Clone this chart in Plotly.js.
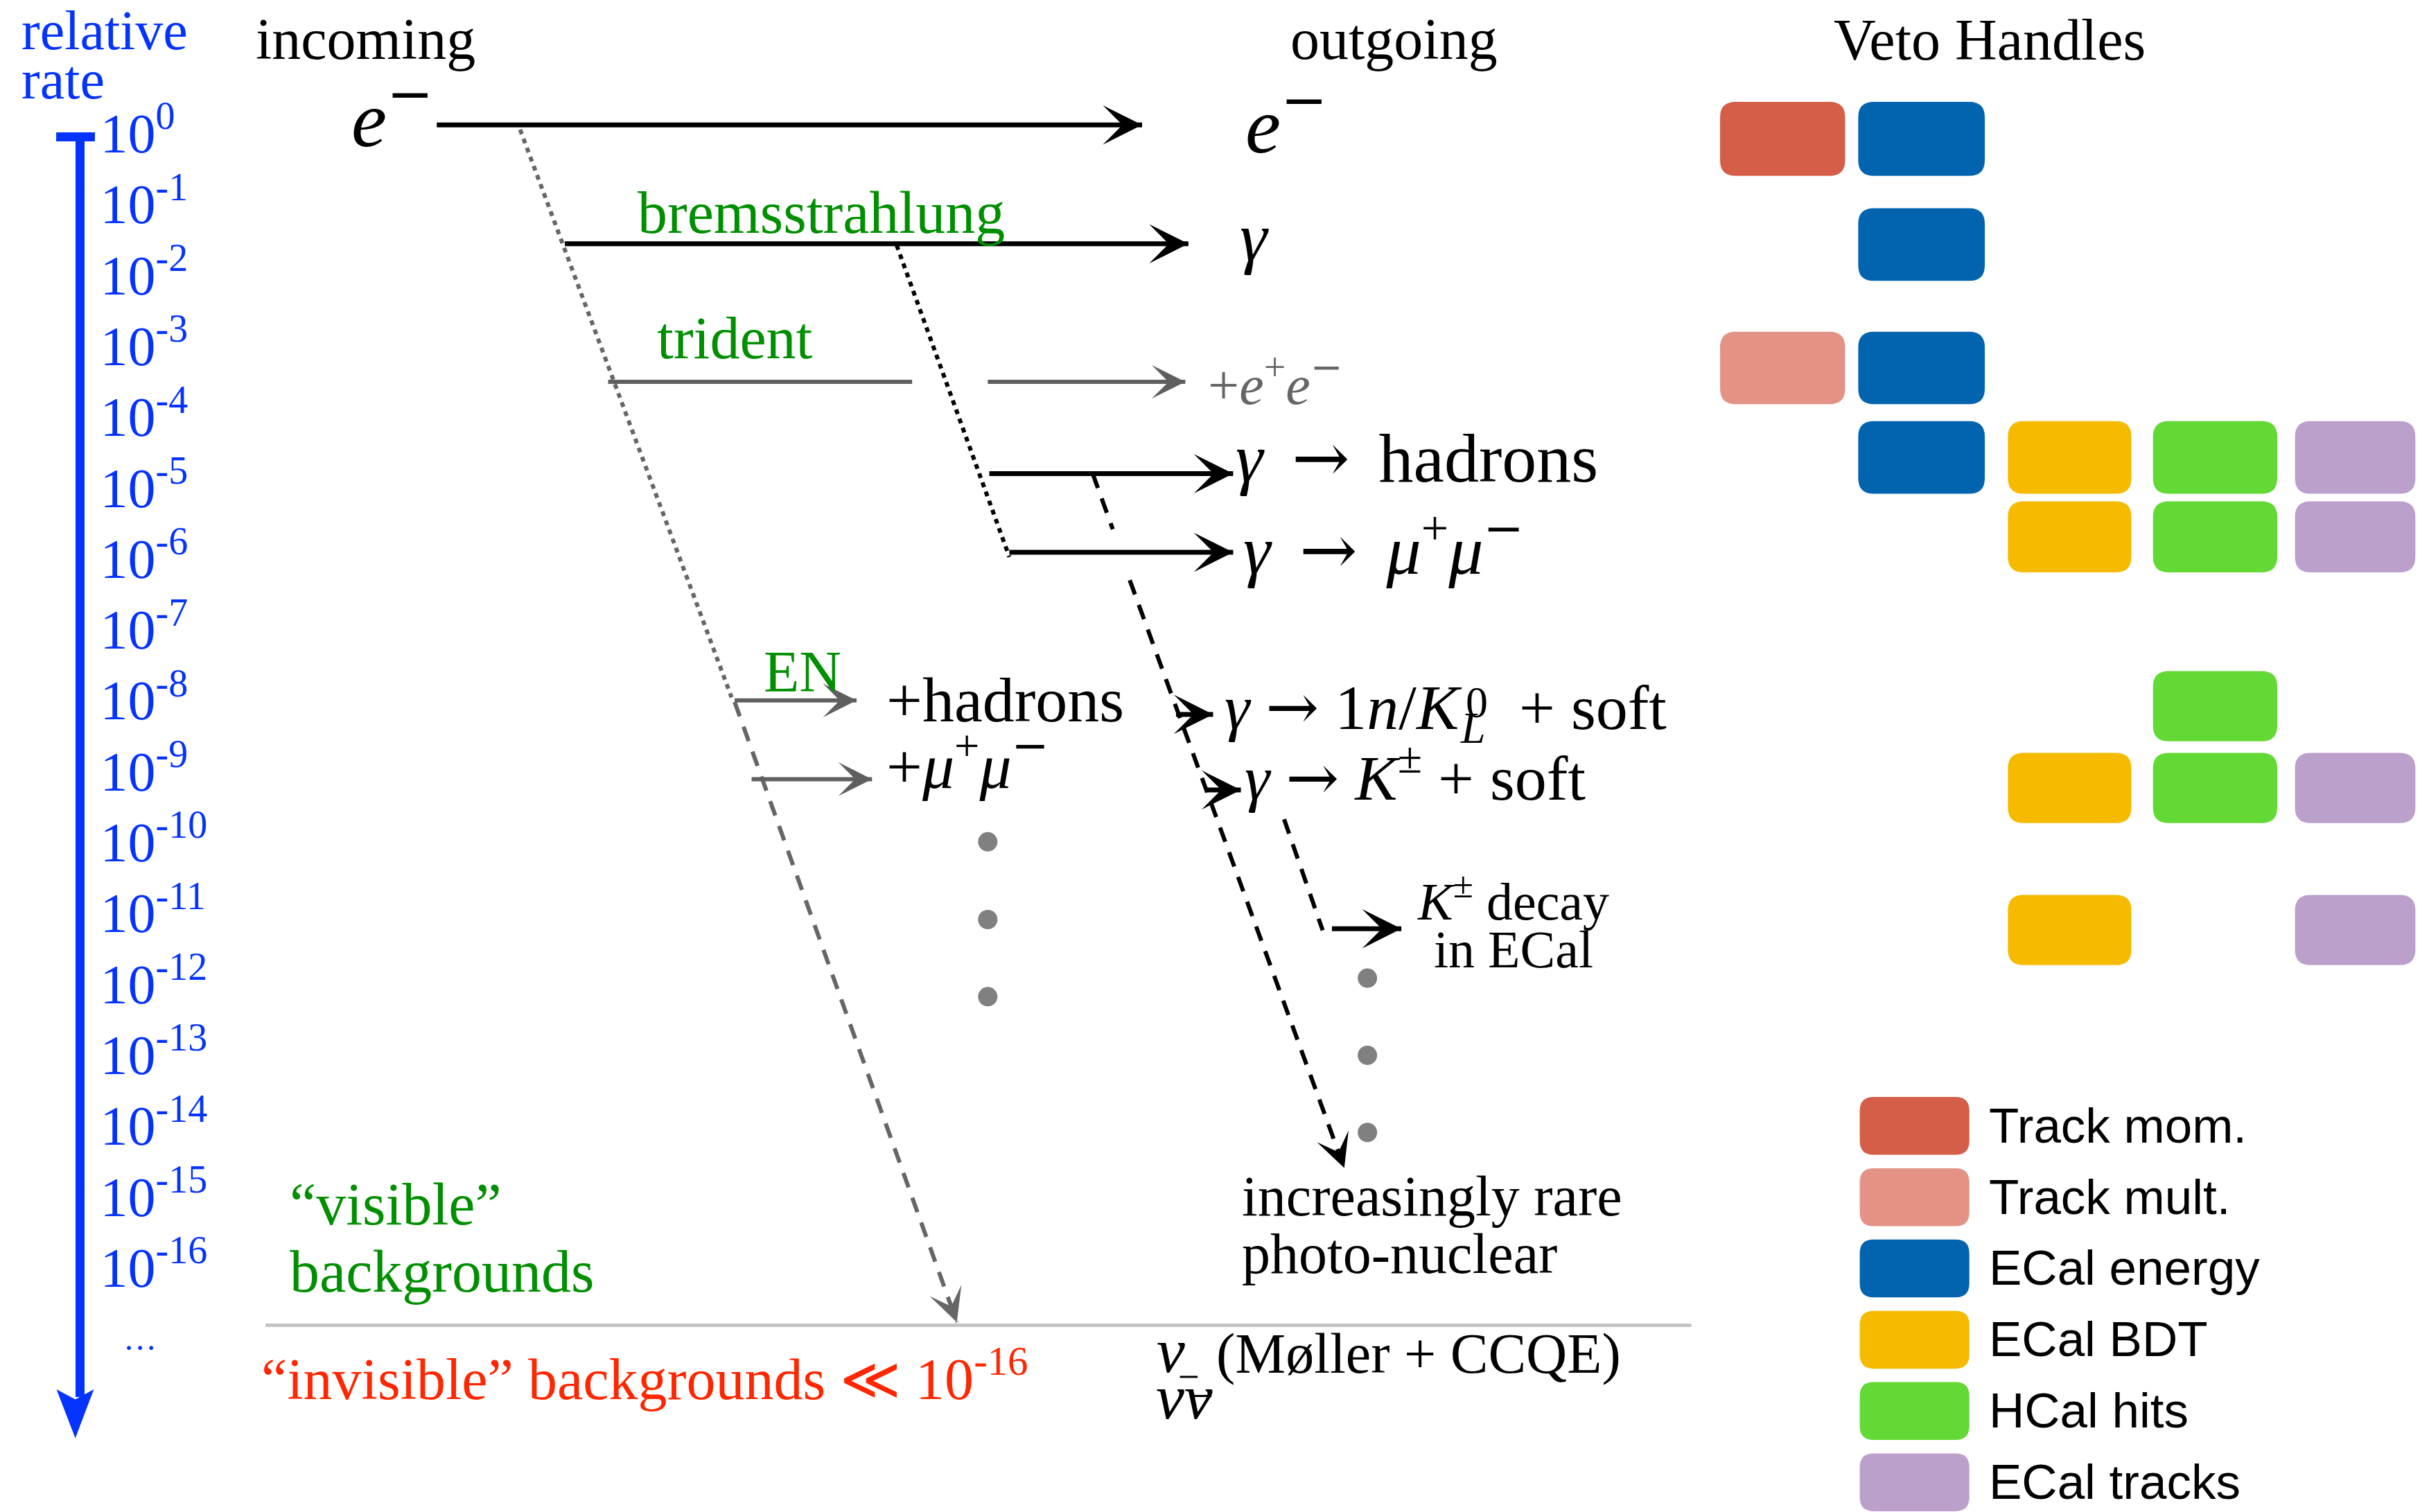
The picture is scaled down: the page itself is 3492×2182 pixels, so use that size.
<!DOCTYPE html>
<html><head><meta charset="utf-8">
<script src="https://cdn.plot.ly/plotly-3.0.1.min.js"></script>
<style>html,body{margin:0;padding:0;background:#fff;}#chart{width:3492px;height:2182px;}</style>
</head><body><div id="chart"></div>
<script>
// ================= DATA =================
// relative-rate scale (log10 of the relative rate)
const rateExponents = [0,-1,-2,-3,-4,-5,-6,-7,-8,-9,-10,-11,-12,-13,-14,-15,-16];
const rateTickLabels = ['10<sup>0</sup>','10<sup>-1</sup>','10<sup>-2</sup>','10<sup>-3</sup>','10<sup>-4</sup>',
  '10<sup>-5</sup>','10<sup>-6</sup>','10<sup>-7</sup>','10<sup>-8</sup>','10<sup>-9</sup>','10<sup>-10</sup>',
  '10<sup>-11</sup>','10<sup>-12</sup>','10<sup>-13</sup>','10<sup>-14</sup>','10<sup>-15</sup>','10<sup>-16</sup>'];
const rateAxisTitle = ['relative', 'rate'];
const columnTitles = ['incoming', 'outgoing', 'Veto Handles'];

// veto handles and which process rows each one applies to
const vetoHandles = ['Track mom.', 'Track mult.', 'ECal energy', 'ECal BDT', 'HCal hits', 'ECal tracks'];
const processNames = ['e⁻', 'γ', '+e⁺e⁻', 'γ → hadrons', 'γ → μ⁺μ⁻', 'γ → 1n/K⁰L + soft', 'γ → K± + soft', 'K± decay in ECal'];
const vetoMatrix = [
  [1,0,1,0,0,0],
  [0,0,1,0,0,0],
  [0,1,1,0,0,0],
  [0,0,1,1,1,1],
  [0,0,0,1,1,1],
  [0,0,0,0,1,0],
  [0,0,0,1,1,1],
  [0,0,0,1,0,1]
];

// diagram labels
const ARW = '<span style="font-family:DejaVu Serif">→</span>';
const MINUS = '<span style="font-family:DejaVu Serif">−</span>';
const SP = '\u2004\u200A';
const sceneLabels = [
  '<i>e</i><sup>' + MINUS + '</sup>', '<i>e</i><sup>' + MINUS + '</sup>', 'bremsstrahlung', '<i>γ</i>', 'trident',
  '+<i>e</i><sup>+</sup><i>e</i><sup>' + MINUS + '</sup>', '<i>γ</i>' + SP + ARW + SP + 'hadrons',
  '<i>γ</i>' + SP + ARW + SP + '<i>μ</i><sup>+</sup><i>μ</i><sup>' + MINUS + '</sup>',
  'EN', '+hadrons', '+<i>μ</i><sup>+</sup><i>μ</i><sup>' + MINUS + '</sup>',
  '<i>γ</i> ' + ARW + ' 1<i>n</i>/<i>K</i>', '0', '<i>L</i>', '+ soft',
  '<i>γ</i> ' + ARW + ' <i>K</i><sup>±</sup> + soft', '<i>K</i><sup>±</sup> decay', 'in ECal',
  'increasingly rare', 'photo-nuclear', '“visible”', 'backgrounds',
  '“invisible” backgrounds ≪ 10<sup>-16</sup>', '<i>ν</i>', '(Møller + CCQE)', '<i>νν</i>', '…'
];

// process flow segments  [x0, y0, x1, y1]  (diagram units)
const solidBlackArrows = [[283,81,740,81],[366,158,770,158],[641,307,799,307],[654,358,799,358],[762,463,786,463],[782,512,804,512],[863,602,908,602]];
const solidGrayArrows  = [[640,247.5,768,247.5],[476,454,555,454],[487,505,565,505]];
const solidGrayPlain   = [[394,247.5,591,247.5]];
const dottedGray  = [[337,84,474,452]];
const dashedGrayArrows = [[476,455,620,857]];
const dottedBlack = [[581,159,654,361]];
const dashedBlackPlain = [[708,307,721,343],[832,531,857,603]];
const dashedBlackArrows = [[732,376,871,757]];
const separator = [[172,859,1096,859]];
const smallBars = [[764.5,892.4,776,892.4],[773,904.8,785,904.8]];
const moreDotsX = [640,640,640,886,886,886];
const moreDotsY = [545.6,596,646,634,684,734];

// ================= STYLE / LAYOUT =================
const K = 3492/1568;
const BLUE = '#0433FF', GREEN = '#008F00', RED = '#FF2600', GRAYTXT = '#666666', GRAYLN = '#5f5f5f';
const SERIF = 'Liberation Serif, Times New Roman, serif';
const SANS = 'Liberation Sans, Arial, sans-serif';
const vetoColors = ['#D55E48', '#E39285', '#0263AF', '#F6BB00', '#63D935', '#BCA0CC'];
const handleColumn = [0,0,1,2,3,4];
const colX = [[1114.5,1195.5],[1204,1286],[1301,1381],[1395,1475.5],[1487,1565]];
const rowY = [[66,114],[135,182],[215,262],[273,320],[325,371],[435,480.5],[488,533.5],[580,625.5]];

// label placement: [x, baseline, size(px), color, shiftFactor]
const scenePos = [
  [226.8,94,115,'#000',0.414],[806,98,115,'#000',0.414],[412.2,150.9,86,GREEN,0.34],[802.4,169,100,'#000',0.34],[424.8,232.2,86,GREEN,0.34],
  [781.8,261.3,80,GRAYTXT,0.414],[799.7,312,100,'#000',0.34],[804.7,372,100,'#000',0.414],
  [494,448.1,84,GREEN,0.34],[573.4,467.5,92,'#000',0.34],[573.4,510,92,'#000',0.414],
  [792.6,472.4,92,'#000',0.34],[949,465,64,'#000',0.34],[945,481.4,64,'#000',0.34],[983.5,472.4,92,'#000',0.34],
  [805.6,519,92,'#000',0.414],[917.4,595.9,76,'#000',0.414],[928.2,626.9,76,'#000',0.34],
  [803.8,788,82,'#000',0.34],[803.8,825,82,'#000',0.34],[186.8,793.7,86,GREEN,0.34],[186.8,837.5,86,GREEN,0.34],
  [168.4,907,84,RED,0.414],[748.4,889.5,92,'#000',0.34],[787.2,890,82,'#000',0.34],[748,919.6,92,'#000',0.34],[79,875,48,BLUE,0.34]
];

function lineTrace(segs, color, width, dash){
  const xs=[], ys=[];
  segs.forEach(s=>{ xs.push(s[0],s[2],null); ys.push(s[1],s[3],null); });
  return {x:xs, y:ys, mode:'lines', line:{color:color, width:width, dash:dash||'solid'}, hoverinfo:'skip', showlegend:false};
}
function headAnn(s, color, width){
  const dx=s[2]-s[0], dy=s[3]-s[1], L=Math.hypot(dx,dy), b=Math.min(10, L*0.5);
  return {x:s[2], y:s[3], ax:s[2]-dx/L*b, ay:s[3]-dy/L*b, xref:'x', yref:'y', axref:'x', ayref:'y',
    showarrow:true, arrowhead:3, arrowsize:1.35, arrowwidth:width, arrowcolor:color, text:'', standoff:0};
}
function textAnn(text, x, base, size, color, shift, family){
  return {x:x, y:base - shift*size/K, xref:'x', yref:'y', xanchor:'left', yanchor:'middle', showarrow:false,
    text:text, font:{family:family||SERIF, size:size, color:color}};
}
function roundRect(x0,y0,x1,y1,r){
  return `M${x0+r},${y0} H${x1-r} Q${x1},${y0} ${x1},${y0+r} V${y1-r} Q${x1},${y1} ${x1-r},${y1} H${x0+r} Q${x0},${y1} ${x0},${y1-r} V${y0+r} Q${x0},${y0} ${x0+r},${y0} Z`;
}

const traces = [
  lineTrace(separator, '#C4C4C4', 5),
  lineTrace(dottedGray, '#666666', 6, '7px,7px'),
  lineTrace(dashedGrayArrows, '#666666', 6, '22px,16px'),
  lineTrace(dottedBlack, '#000000', 6, '7px,7px'),
  lineTrace(dashedBlackPlain, '#000000', 6, '22px,16px'),
  lineTrace(dashedBlackArrows, '#000000', 6, '22px,16px'),
  lineTrace(solidGrayPlain, GRAYLN, 6),
  lineTrace(solidGrayArrows, GRAYLN, 6),
  lineTrace(solidBlackArrows, '#000000', 7),
  lineTrace(smallBars, '#000000', 3),
  {x:moreDotsX, y:moreDotsY, mode:'markers', marker:{size:28, color:'#808080'}, hoverinfo:'skip', showlegend:false},
  {x:[48.5], y:[0], yaxis:'y2', mode:'markers', marker:{opacity:0}, hoverinfo:'skip', showlegend:false}
];

const annotations = [];
solidBlackArrows.forEach(s=>annotations.push(headAnn(s,'#000000',7)));
solidGrayArrows.forEach(s=>annotations.push(headAnn(s,GRAYLN,6)));
dashedGrayArrows.forEach(s=>annotations.push(headAnn(s,'#666666',6)));
dashedBlackArrows.forEach(s=>annotations.push(headAnn(s,'#000000',6)));

// titles
annotations.push(textAnn(columnTitles[0],165,38.2,84,'#000',0.34));
annotations.push(textAnn(columnTitles[1],835.2,38.2,84,'#000',0.34));
annotations.push(textAnn(columnTitles[2],1187.3,38.6,84,'#000',0.34));
annotations.push(textAnn(rateAxisTitle[0],13,32,80,BLUE,0.34));
annotations.push(textAnn(rateAxisTitle[1],13,64,80,BLUE,0.34));
sceneLabels.forEach((t,i)=>{ const p=scenePos[i]; annotations.push(textAnn(t,p[0],p[1],p[2],p[3],p[4])); });

// veto handle boxes
const shapes = [];
vetoMatrix.forEach((row,r)=>row.forEach((v,h)=>{
  if(!v) return;
  const c = colX[handleColumn[h]], y = rowY[r];
  shapes.push({type:'path', xref:'x', yref:'y', path:roundRect(c[0],y[0],c[1],y[1],10), fillcolor:vetoColors[h], line:{width:0}});
}));
// legend
vetoHandles.forEach((name,i)=>{
  const top = 711 + i*46.2;
  shapes.push({type:'path', xref:'x', yref:'y', path:roundRect(1205,top,1276,top+37.5,9), fillcolor:vetoColors[i], line:{width:0}});
  annotations.push({x:1287.8, y:top+18.5, xref:'x', yref:'y', xanchor:'left', yanchor:'middle', showarrow:false,
    text:name, font:{family:SANS, size:71, color:'#000'}});
});
// rate axis cap and arrow head
shapes.push({type:'line', xref:'x', yref:'y', x0:36.4, x1:61.5, y0:88.7, y1:88.7, line:{color:BLUE, width:13}});
shapes.push({type:'path', xref:'x', yref:'y', path:'M36.6,900.5 L48.8,932.2 L60.8,900.5 L48.8,907 Z', fillcolor:BLUE, line:{width:0}});

const layout = {
  width:3492, height:2182, autosize:false,
  margin:{l:0,r:0,t:0,b:0,pad:0},
  paper_bgcolor:'#ffffff', plot_bgcolor:'rgba(0,0,0,0)',
  showlegend:false,
  xaxis:{range:[0,1568], visible:false, fixedrange:true},
  yaxis:{range:[980,0], visible:false, fixedrange:true},
  yaxis2:{
    domain:[1-2016/2182, 1-191/2182],
    range:[-(2016-192)/102.3, (192-191)/102.3],
    anchor:'free', position:114.5/3492,
    showline:true, linecolor:BLUE, linewidth:13,
    showgrid:false, zeroline:false, ticks:'',
    tickmode:'array', tickvals:rateExponents, ticktext:rateTickLabels,
    ticklabelposition:'inside', ticklabelstandoff:36, ticklabeloverflow:'allow',
    tickfont:{family:SERIF, size:80, color:BLUE}, fixedrange:true
  },
  shapes:shapes,
  annotations:annotations
};
Plotly.newPlot('chart', traces, layout, {staticPlot:true, displayModeBar:false});
</script></body></html>
